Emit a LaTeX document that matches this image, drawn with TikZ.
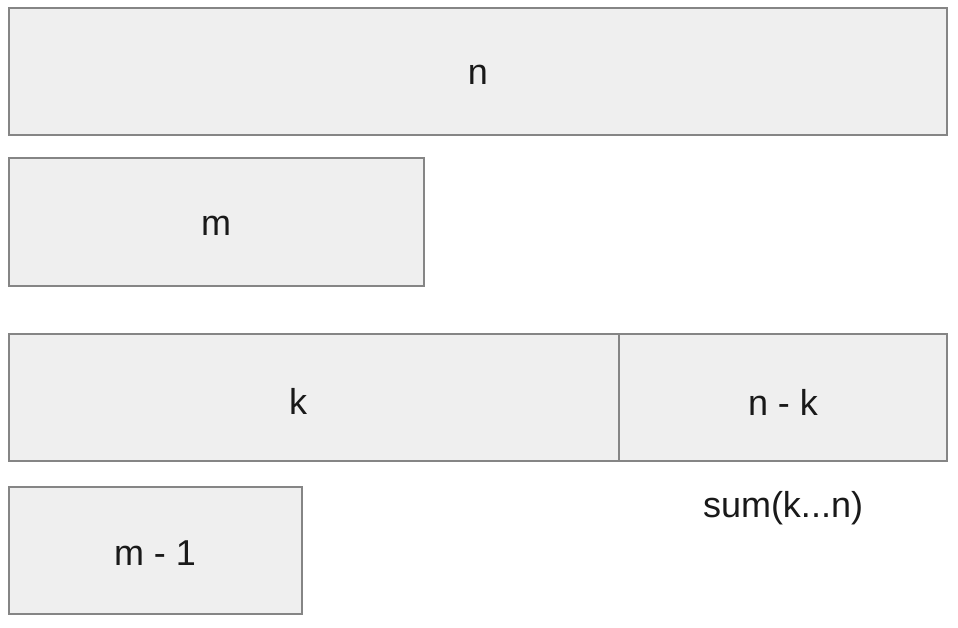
\documentclass[tikz,border=0pt]{standalone}
\usepackage{fontspec}
\setmainfont{Liberation Sans}
\definecolor{boxfill}{HTML}{EFEFEF}
\definecolor{boxline}{HTML}{858585}
\tikzset{
  blk/.style={draw=boxline, fill=boxfill, line width=1.6pt, rectangle, inner sep=0pt, outer sep=0pt},
  lbl/.style={font=\fontsize{36}{40}\selectfont, text=black!90, inner sep=0pt}
}
\begin{document}
\begin{tikzpicture}[x=1pt,y=-1pt]
\useasboundingbox[fill=white] (0,0) rectangle (958,628);
\node[blk, minimum width=938pt, minimum height=127pt, anchor=north west] (n) at (9,8) {};
\node[blk, minimum width=415pt, minimum height=128pt, anchor=north west] (m) at (9,158) {};
\node[blk, minimum width=610pt, minimum height=127pt, anchor=north west] (k) at (9,334) {};
\node[blk, minimum width=328pt, minimum height=127pt, anchor=north west] (nk) at (619,334) {};
\node[blk, minimum width=293pt, minimum height=127pt, anchor=north west] (m1) at (9,487) {};
\node[lbl] (tn) at (478,75) {n};
\node[lbl] (tm) at (216,226) {m};
\node[lbl] (tk) at (298,401) {k};
\node[lbl] (tnk) at (783,402) {n - k};
\node[lbl] (tm1) at (155,553) {m - 1};
\node[lbl] (tsum) at (783,508) {sum(k...n)};
\end{tikzpicture}
\end{document}
